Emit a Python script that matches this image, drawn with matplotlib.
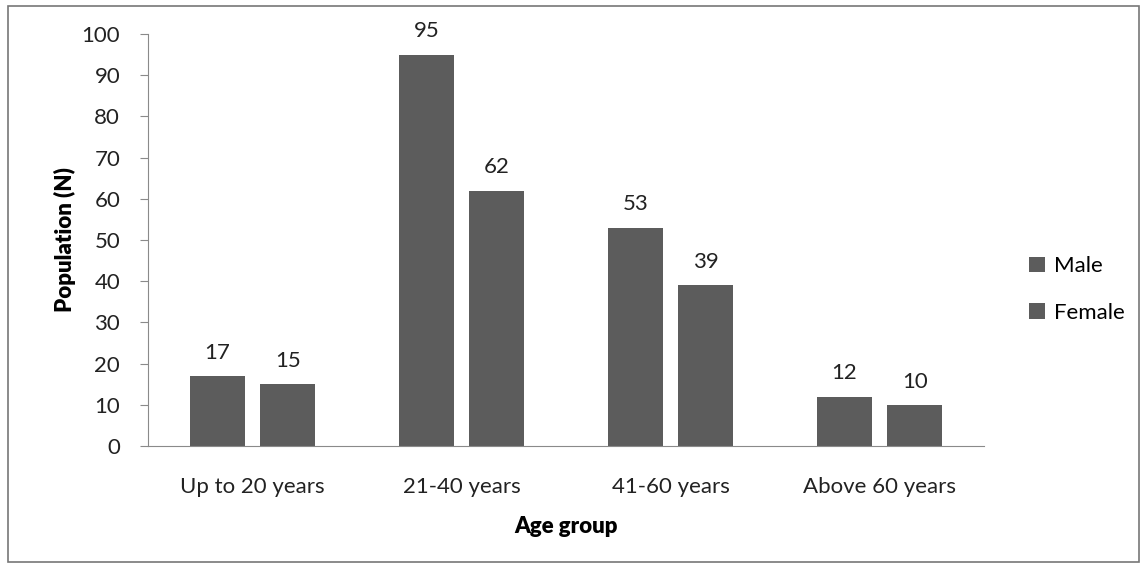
import matplotlib.pyplot as plt
import numpy as np
from matplotlib.patches import Rectangle

plt.rcParams['font.family'] = ['Lato', 'DejaVu Sans']

# data
groups = ['Up to 20 years', '21-40 years', '41-60 years', 'Above 60 years']
male = [17, 95, 53, 12]
female = [15, 62, 39, 10]
yticks = [0, 10, 20, 30, 40, 50, 60, 70, 80, 90, 100]

bar_color = '#5c5c5c'
axis_color = '#8a8a8a'
fs = 16

fig = plt.figure(figsize=(11.45, 5.67), dpi=100)
ax = fig.add_axes([148 / 1145, 1 - 446 / 567, (984 - 148) / 1145, (446 - 34) / 567])

x = np.arange(len(groups))
w = 0.265
ax.bar(x - 0.168, male, w, color=bar_color, label='Male')
ax.bar(x + 0.168, female, w, color=bar_color, label='Female')

# value labels above bars
for xi, v in zip(x, male):
    ax.text(xi - 0.168, v + 3.2, str(v), ha='center', va='bottom', fontsize=fs, color='#222222')
for xi, v in zip(x, female):
    ax.text(xi + 0.168, v + 3.2, str(v), ha='center', va='bottom', fontsize=fs, color='#222222')

ax.set_xlim(-0.5, len(groups) - 0.5)
ax.set_ylim(0, 100)
ax.set_yticks(yticks)
ax.set_yticklabels([str(t) for t in yticks], fontsize=fs, color='#222222')
ax.set_xticks(x)
ax.set_xticklabels(groups, fontsize=fs, color='#222222')
ax.tick_params(axis='x', length=0, pad=22)
ax.tick_params(axis='y', length=6, color=axis_color, direction='out', pad=14)

for s in ['top', 'right']:
    ax.spines[s].set_visible(False)
ax.spines['left'].set_color(axis_color)
ax.spines['bottom'].set_color(axis_color)

ax.set_xlabel('Age group', fontsize=fs, fontweight='heavy', labelpad=14)
ax.set_ylabel('Population (N)', fontsize=fs, fontweight='heavy', labelpad=4)

ax.legend(loc='center left', bbox_to_anchor=(1.03, 0.38), frameon=False, fontsize=fs,
          handlelength=0.7, handleheight=0.7, handletextpad=0.4, labelspacing=1.2)

# rahmen
fig.patches.append(Rectangle((8 / 1145, 5 / 567), 1131 / 1145, 556 / 567, transform=fig.transFigure,
                             fill=False, edgecolor='#777777', linewidth=1.2))

fig.savefig('out.png', dpi=100, facecolor='white')
